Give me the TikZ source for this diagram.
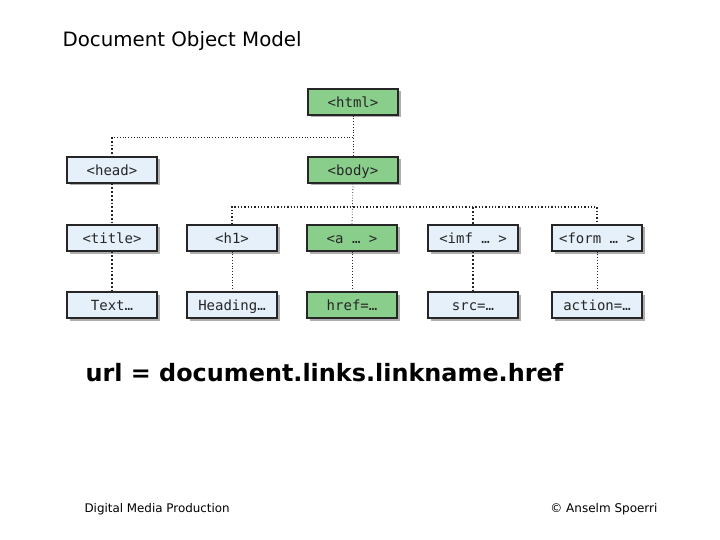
\documentclass[tikz,border=0pt]{standalone}
\usepackage{fontspec}
\setmainfont{DejaVu Sans}
\newfontfamily\boxfont{DejaVu Sans Mono}
\usetikzlibrary{shadows}
\definecolor{tgreen}{RGB}{138,206,140}
\definecolor{tblue}{RGB}{230,240,250}
\begin{document}
\begin{tikzpicture}[x=1pt,y=-1pt,
  tag/.style={draw=black!85, line width=1.3pt, minimum width=90pt, minimum height=26pt,
    inner sep=0pt, text height=14pt, text depth=3pt,
    font=\boxfont\fontsize{14}{16}\selectfont, text=black!85,
    drop shadow={shadow xshift=2.5pt, shadow yshift=-2.5pt, fill=black!45, opacity=0.7}},
  gtag/.style={tag, fill=tgreen},
  btag/.style={tag, fill=tblue},
  thinlink/.style={draw=black!85, line width=0.8pt, dotted},
  thicklink/.style={draw=black!85, line width=1.8pt, dotted},
  midlink/.style={draw=black!85, line width=1.3pt, dotted}
]
\useasboundingbox (0,0) rectangle (720,540);
\node[anchor=west, font=\fontsize{19.8}{24}\selectfont] (ttl) at (59,41) {Document Object Model};

\node[gtag] (html) at (353,102) {<html>};
\node[btag] (head) at (112,170) {<head>};
\node[gtag] (body) at (353,170) {<body>};

\node[btag] (title) at (112,238) {<title>};
\node[btag] (h1) at (232,238) {<h1>};
\node[gtag] (a) at (352,238) {<a … >};
\node[btag] (imf) at (473,238) {<imf … >};
\node[btag] (form) at (597,238) {<form … >};

\node[btag] (text) at (112,305) {Text…};
\node[btag] (heading) at (232,305) {Heading…};
\node[gtag] (href) at (352,305) {href=…};
\node[btag] (src) at (473,305) {src=…};
\node[btag] (action) at (597,305) {action=…};

\coordinate (j1) at (112,137);
\coordinate (j2) at (353,137);
\coordinate (k1) at (232,207);
\coordinate (k2) at (597,207);

\draw[thinlink] (html.south) -- (body.north);
\draw[thinlink] (j2) -- (j1);
\draw[thicklink] (j1) -- (head.north);
\draw[thinlink] (body.south) -- (a.north);
\draw[midlink] (h1.north) -- (k1) -- (k2) -- (form.north);
\draw[thicklink] (imf.north |- k1) -- (imf.north);

\draw[thicklink] (head.south) -- (title.north);
\draw[thicklink] (title.south) -- (text.north);
\draw[thinlink] (h1.south) -- (heading.north);
\draw[thinlink] (a.south) -- (href.north);
\draw[thicklink] (imf.south) -- (src.north);
\draw[thinlink] (form.south) -- (action.north);

\node[anchor=west, font=\bfseries\fontsize{23.9}{28}\selectfont] (url) at (82,373) {url = document.links.linkname.href};
\node[anchor=west, font=\fontsize{11.9}{14}\selectfont] (foot1) at (81,509) {Digital Media Production};
\node[anchor=east, font=\fontsize{12}{14}\selectfont] (foot2) at (661,509) {© Anselm Spoerri};
\end{tikzpicture}
\end{document}
